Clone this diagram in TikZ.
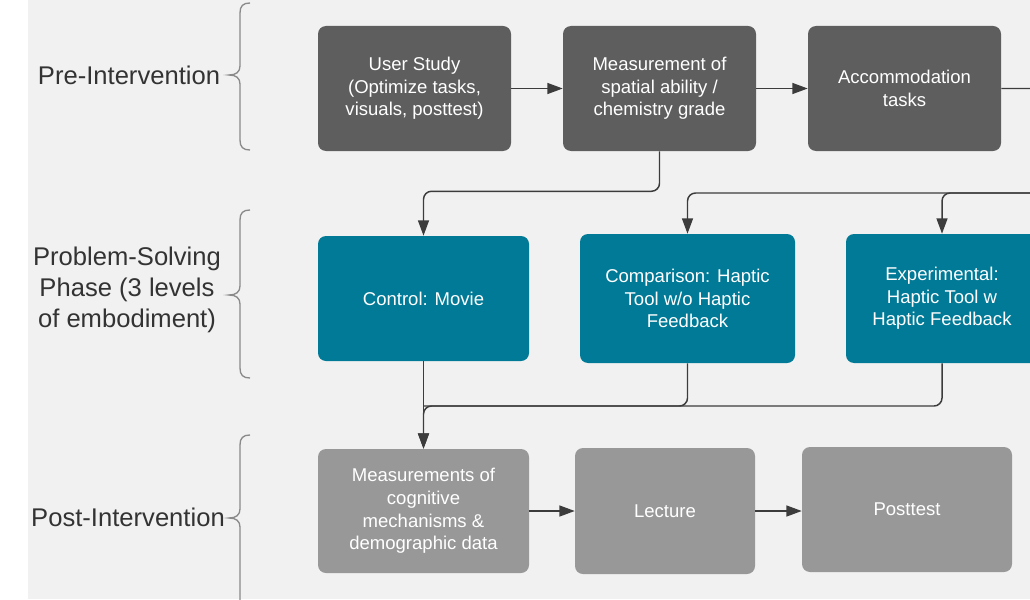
\documentclass[tikz,border=0pt]{standalone}
\usepackage{fontspec}
\setmainfont{Liberation Sans}
\usetikzlibrary{arrows.meta}

\definecolor{bggray}{HTML}{F1F1F1}
\definecolor{darkbox}{HTML}{5E5E5E}
\definecolor{tealbox}{HTML}{007A96}
\definecolor{lightbox}{HTML}{989898}
\definecolor{linegray}{HTML}{3C3C3C}
\definecolor{bracegray}{HTML}{8A8A8A}
\definecolor{phasetext}{HTML}{333333}

\begin{document}
\begin{tikzpicture}[x=0.75pt,y=-0.75pt,
		box/.style={rectangle,rounded corners=6pt,inner sep=0pt,align=center,text=white,
			font=\fontsize{13.9}{16.9}\selectfont},
		pre/.style={box,fill=darkbox,minimum width=144.75pt,minimum height=93.75pt},
		arm/.style={box,fill=tealbox,minimum height=96.75pt},
		postbox/.style={box,fill=lightbox,minimum height=93.75pt},
		phase/.style={align=center,text=phasetext,inner sep=0pt,
			font=\fontsize{19.2}{23.25}\selectfont},
		link/.style={draw=linegray,line width=1.1pt,rounded corners=6pt},
		flow/.style={link,-{Triangle[length=11.5pt,width=8.2pt]}},
		brace/.style={draw=bracegray,line width=1pt}]
		\useasboundingbox (0,0) rectangle (1030,599);
		\clip (0,0) rectangle (1030,599);
		\fill [bggray] (28,0) rectangle (1030,599);

		% phase labels and braces
		\node [phase] (prelbl) at (129,75) {Pre-Intervention};
		\node [phase] (solvlbl) at (127,290) {Problem-Solving\\Phase (3 levels\\of embodiment)};
		\node [phase] (postlbl) at (128,517) {Post-Intervention};
		\draw [brace] (250,3) .. controls (243,3) and (240,6) .. (240,13) -- (240,66)
			.. controls (240,72) and (236,75) .. (229,75) .. controls (236,75) and (240,78) .. (240,84)
			-- (240,140) .. controls (240,147) and (243,150) .. (250,150);
		\draw [brace] (250,210) .. controls (243,210) and (240,213) .. (240,220) -- (240,286)
			.. controls (240,292) and (236,295) .. (229,295) .. controls (236,295) and (240,298) .. (240,304)
			-- (240,368) .. controls (240,375) and (243,378) .. (250,378);
		\draw [brace] (250,435) .. controls (243,435) and (240,438) .. (240,445) -- (240,509)
			.. controls (240,515) and (236,518) .. (229,518) .. controls (236,518) and (240,521) .. (240,527)
			-- (240,620);

		% pre-intervention
		\node [pre] (usr) at (414.5,88.5) {User Study\\(Optimize tasks,\\visuals, posttest)};
		\node [pre] (meas) at (659.5,88.5) {Measurement of\\spatial ability /\\chemistry grade};
		\node [pre] (acc) at (904.5,88.5) {Accommodation\\tasks};

		% problem-solving arms
		\node [arm,minimum width=158.25pt,minimum height=93.75pt] (ctrl) at (423.5,298.5) {Control: Movie};
		\node [arm,minimum width=161.25pt] (comp) at (687.5,298.5) {Comparison: Haptic\\Tool w/o Haptic\\Feedback};
		\node [arm,minimum width=144pt] (expt) at (942,298.5) {Experimental:\\Haptic Tool w\\Haptic Feedback};

		% post-intervention
		\node [postbox,minimum width=158.25pt,minimum height=93pt] (cogn) at (423.5,511) {Measurements of\\cognitive\\mechanisms \&\\demographic data};
		\node [postbox,minimum width=135pt,minimum height=94.5pt] (lect) at (665,511) {Lecture};
		\node [postbox,minimum width=157.5pt] (post) at (907,509.5) {Posttest};

		\coordinate (feed) at (1060,193);
		\coordinate (merge) at (423.5,406);

		\draw [flow] (usr) -- (meas);
		\draw [flow] (meas) -- (acc);
		\draw [flow] (meas.south) -- ++(0,40) -| (ctrl.north);
		\draw [flow] (acc.east) -| (feed) -| (comp.north);
		\draw [flow] (feed) -| (expt.north);
		\draw [link] (comp.south) |- (merge);
		\draw [flow] (expt.south) |- (merge) -- (cogn.north);
		\draw [flow] (ctrl.south) -- (cogn.north);
		\draw [flow] (cogn.east |- lect) -- (lect);
		\draw [flow] (lect) -- (lect -| post.west);
\end{tikzpicture}
\end{document}
